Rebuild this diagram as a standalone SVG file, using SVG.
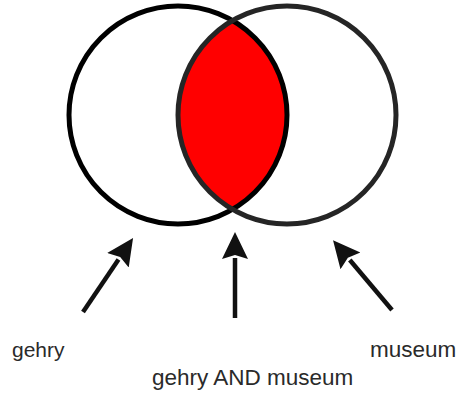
<svg xmlns="http://www.w3.org/2000/svg" width="468" height="393" viewBox="0 0 468 393">
  <defs>
    <style>
      .ring { fill: none; stroke-width: 5; }
      .lbl { font-family: "Liberation Sans", Arial, sans-serif; fill: #2a2a2a; }
      .arrow { stroke: #111; stroke-width: 4.5; fill: none; marker-end: url(#head); }
    </style>
    <marker id="head" markerUnits="userSpaceOnUse" markerWidth="28" markerHeight="28" viewBox="0 -14 28 28" refX="1" refY="0" orient="auto">
      <path d="M0,-13 L27,0 L0,13 L4,0 z" fill="#111"/>
    </marker>
  </defs>
  <rect width="468" height="393" fill="#fff"/>
  <g id="intersection">
    <path d="M232.5,20.6 A109,109 0 0 1 232.5,209.4 A109,109 0 0 1 232.5,20.6 z" fill="#ff0000"/>
  </g>
  <g id="gehry-circle">
    <circle class="ring" cx="178" cy="115" r="109" stroke="#000"/>
  </g>
  <g id="museum-circle">
    <circle class="ring" cx="287" cy="115" r="109" stroke="#252525"/>
  </g>
  <g id="connectors">
    <line class="arrow" x1="83" y1="312" x2="118.5" y2="259.5"/>
    <line class="arrow" x1="235" y1="318" x2="235" y2="258"/>
    <line class="arrow" x1="392" y1="310" x2="349.8" y2="260"/>
  </g>
  <g id="label-gehry">
    <text class="lbl" x="12" y="357" font-size="21">gehry</text>
  </g>
  <g id="label-museum">
    <text class="lbl" x="370" y="357" font-size="22.5">museum</text>
  </g>
  <g id="label-and">
    <text class="lbl" x="152" y="385" font-size="22.5">gehry AND museum</text>
  </g>
</svg>
